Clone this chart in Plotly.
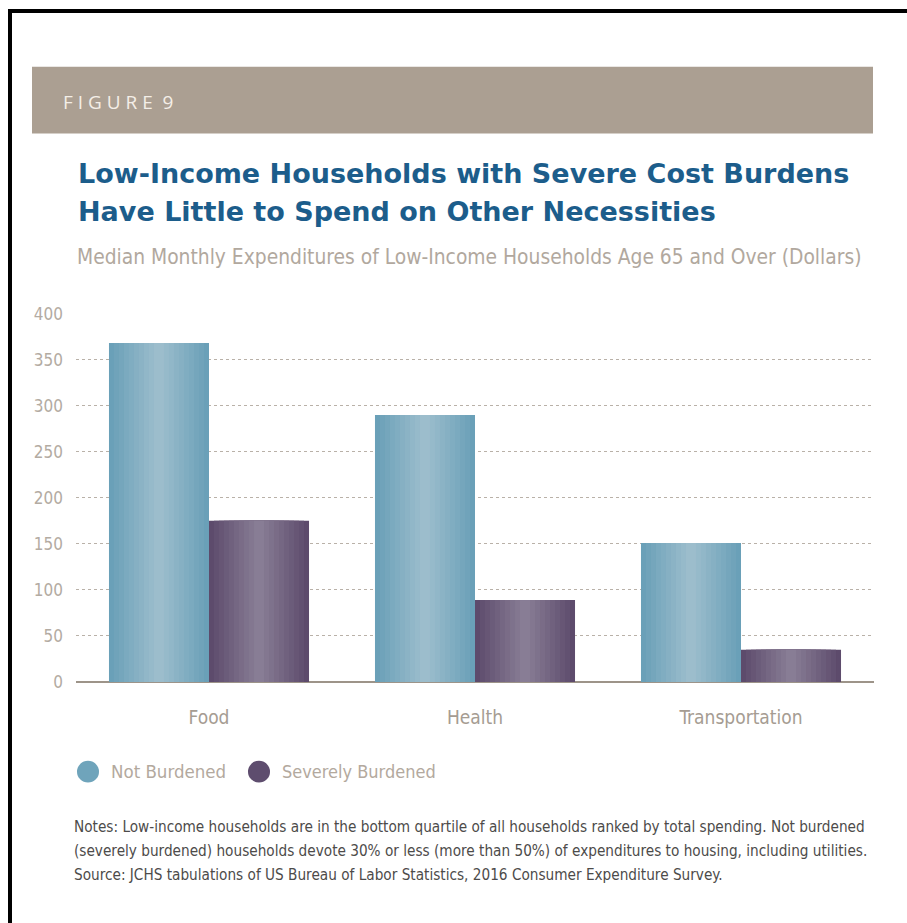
import plotly.graph_objects as go

categories = ["Food", "Health", "Transportation"]
not_burdened = [368, 290, 151]
severely_burdened = [175, 89, 35]
series_names = ["Not Burdened", "Severely Burdened"]
y_ticks = [0, 50, 100, 150, 200, 250, 300, 350, 400]

W, H = 907, 923
COND = "Liberation Sans Narrow, DejaVu Sans Condensed, Roboto Condensed, Arial Narrow, Open Sans, sans-serif"

def px(x):
    return x / W

def py(y):
    # paper is rendered in rows 8..915
    return 1 - (y - 8) / 907

def lerp_color(c1, c2, t):
    a = [int(c1[i:i + 2], 16) for i in (1, 3, 5)]
    b = [int(c2[i:i + 2], 16) for i in (1, 3, 5)]
    return "#%02x%02x%02x" % tuple(round(a[k] + (b[k] - a[k]) * t) for k in range(3))

fig = go.Figure()

bar_w = 0.376
series = [
    (not_burdened, -bar_w / 2, "#6aa0b8", "#9cbdcc"),
    (severely_burdened, bar_w / 2, "#5d4b6c", "#887d95"),
]
N = 10
for vals, center, edge, mid in series:
    for i in range(N):
        frac = 1 - i / N
        w = bar_w * frac
        fig.add_trace(go.Bar(
            x=categories, y=vals, width=w, offset=center - w / 2,
            marker=dict(color=lerp_color(edge, mid, i / (N - 1)), line=dict(width=0)),
            showlegend=False, hoverinfo="skip" if i else "y",
        ))

fig.update_layout(
    width=W, height=H, margin=dict(l=0, r=0, t=0, b=0),
    paper_bgcolor="white", plot_bgcolor="white",
    barmode="overlay", showlegend=False,
    xaxis=dict(domain=[px(76), px(874)], showgrid=False, zeroline=False,
               showline=False, ticks="", ticklabelstandoff=22,
               tickfont=dict(family=COND, size=19, color="#a59c92")),
    yaxis=dict(domain=[py(683), py(313)], range=[0, 400], tickvals=y_ticks,
               showgrid=True, gridcolor="#b9b1a8", griddash="dot", gridwidth=1,
               zeroline=True, zerolinecolor="#9d9489", zerolinewidth=2,
               showline=False, ticks="", ticklabelstandoff=12,
               tickfont=dict(family=COND, size=17, color="#b3aba2")),
)

shapes = [
    # header band
    dict(type="rect", xref="paper", yref="paper", x0=px(32), x1=px(873), y0=py(132), y1=py(65),
         fillcolor="#ab9f92", line=dict(width=0), layer="below"),
    # frame
    dict(type="rect", xref="paper", yref="paper", x0=px(8), x1=px(12), y0=py(930), y1=py(7),
         fillcolor="black", line=dict(width=0)),
    dict(type="rect", xref="paper", yref="paper", x0=px(8), x1=1.01, y0=py(11), y1=py(7),
         fillcolor="black", line=dict(width=0)),
    # legend markers
    dict(type="circle", xref="paper", yref="paper", x0=px(77), x1=px(99), y0=py(784), y1=py(762),
         fillcolor="#6fa4bb", line=dict(width=0)),
    dict(type="circle", xref="paper", yref="paper", x0=px(248), x1=px(270), y0=py(784), y1=py(762),
         fillcolor="#5e4d6e", line=dict(width=0)),
]
fig.update_layout(shapes=shapes)

def ann(text, x, y, size, color, family, anchor="left", bold=False):
    fig.add_annotation(text=f"<b>{text}</b>" if bold else text, xref="paper", yref="paper",
                       x=px(x), y=py(y), xanchor=anchor, yanchor="middle", showarrow=False,
                       font=dict(size=size, color=color, family=family))

ann("F I G U R E  9", 61, 100, 19, "#f4eee7", "Open Sans, sans-serif")
ann("Low-Income Households with Severe Cost Burdens", 76, 172, 27, "#1c5d8b", "DejaVu Sans, sans-serif", bold=True)
ann("Have Little to Spend on Other Necessities", 76, 210, 27, "#1c5d8b", "DejaVu Sans, sans-serif", bold=True)
ann("Median Monthly Expenditures of Low-Income Households Age 65 and Over (Dollars)", 75, 256, 20.8, "#b1a89e", COND)
ann(series_names[0], 109, 773, 18.5, "#b3a99e", COND)
ann(series_names[1], 280, 773, 18, "#b3a99e", COND)
ann("Notes: Low-income households are in the bottom quartile of all households ranked by total spending. Not burdened",
    72, 829, 15.2, "#4d4b4a", COND)
ann("(severely burdened) households devote 30% or less (more than 50%) of expenditures to housing, including utilities.",
    72, 853, 15.2, "#4d4b4a", COND)
ann("Source: JCHS tabulations of US Bureau of Labor Statistics, 2016 Consumer Expenditure Survey.",
    72, 877, 15.2, "#4d4b4a", COND)

fig.write_html("out.html")
